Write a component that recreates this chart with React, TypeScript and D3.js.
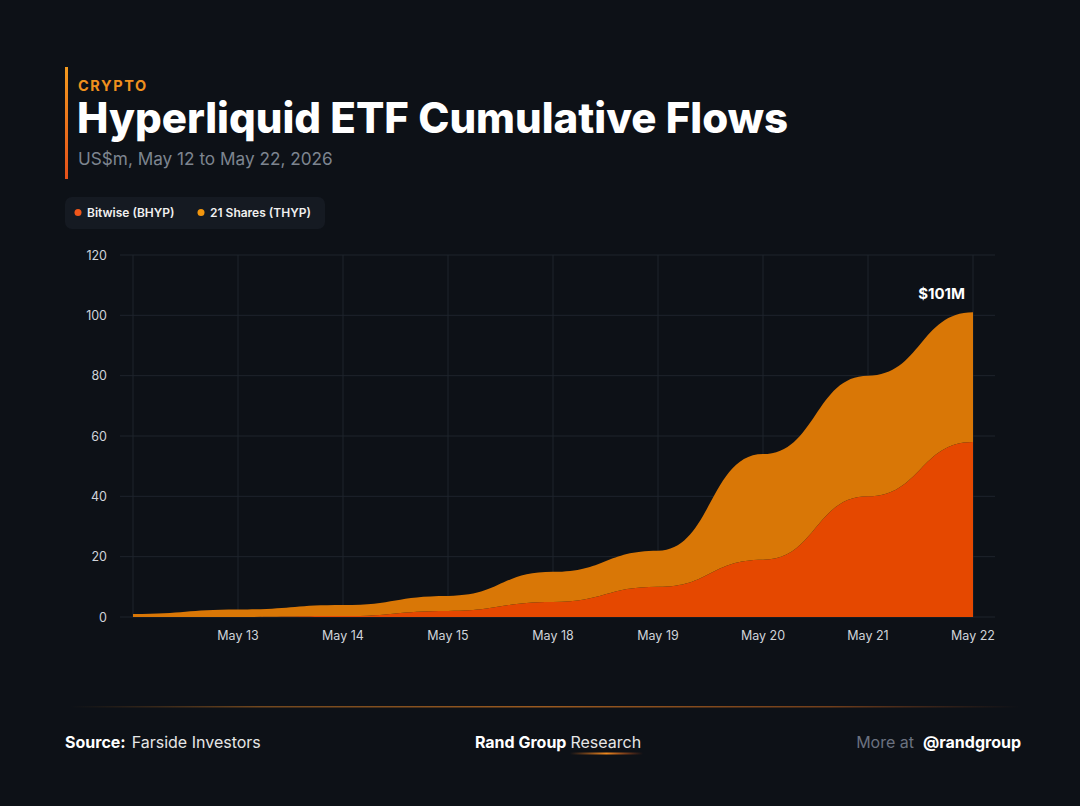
import React, { useEffect } from "react";
import * as d3 from "d3";

const dates = ["May 12", "May 13", "May 14", "May 15", "May 18", "May 19", "May 20", "May 21", "May 22"];
const bitwise = [0, 0, 0.3, 2, 5, 10, 19, 40, 58];
const shares21 = [1, 2.5, 3.7, 5, 10, 12, 35, 40, 43];
const yTicks = [0, 20, 40, 60, 80, 100, 120];
const seriesNames = ["Bitwise (BHYP)", "21 Shares (THYP)"];
const seriesColors = ["#E54800", "#D97706"];
const legendDotColors = ["#F0561A", "#F2960E"];

const W = 1080;
const H = 806;
const FONT = "Inter, 'Noto Sans', sans-serif";

export default function App() {
  useEffect(() => {
    document.body.style.margin = "0";
    document.body.style.background = "#0d1117";
  }, []);

  const x = d3.scalePoint<string>().domain(dates).range([133, 973]);
  const y = d3.scaleLinear().domain([0, 120]).range([617, 255]);

  const rows = dates.map((d, i) => ({ date: d, bitwise: bitwise[i], shares21: shares21[i] }));
  const stack = d3.stack<any>().keys(["bitwise", "shares21"]);
  const layers = stack(rows);
  const area = d3
    .area<any>()
    .x((d: any) => x(d.data.date) as number)
    .y0((d: any) => y(d[0]))
    .y1((d: any) => y(d[1]))
    .curve(d3.curveBumpX);

  const lastX = x(dates[dates.length - 1]) as number;
  const lastTotal = bitwise[bitwise.length - 1] + shares21[shares21.length - 1];

  return (
    <svg
      width={W}
      height={H}
      viewBox={`0 0 ${W} ${H}`}
      style={{ position: "absolute", left: 0, top: 0, display: "block" }}
      fontFamily={FONT}
    >
      <defs>
        <linearGradient id="barGrad" x1="0" y1="0" x2="0" y2="1">
          <stop offset="0%" stopColor="#F39A1E" />
          <stop offset="100%" stopColor="#E5501A" />
        </linearGradient>
        <linearGradient id="footLine" x1="0" y1="0" x2="1" y2="0">
          <stop offset="0%" stopColor="#7a4a1a" stopOpacity="0" />
          <stop offset="20%" stopColor="#8a5520" stopOpacity="0.8" />
          <stop offset="50%" stopColor="#9a5a20" stopOpacity="1" />
          <stop offset="80%" stopColor="#8a4a1c" stopOpacity="0.8" />
          <stop offset="100%" stopColor="#7a3a1a" stopOpacity="0" />
        </linearGradient>
        <linearGradient id="underGlow" x1="0" y1="0" x2="1" y2="0">
          <stop offset="0%" stopColor="#E5701A" stopOpacity="0" />
          <stop offset="50%" stopColor="#F08A1E" stopOpacity="1" />
          <stop offset="100%" stopColor="#E5501A" stopOpacity="0" />
        </linearGradient>
      </defs>
      <rect x={0} y={0} width={W} height={H} fill="#0d1117" />

      {/* Header */}
      <rect x={65} y={67} width={3} height={112} fill="url(#barGrad)" />
      <text x={78} y={91} fill="#F0901E" fontSize={14.5} fontWeight={700} letterSpacing={1.6}>
        CRYPTO
      </text>
      <text x={77} y={133} fill="#ffffff" fontSize={42} fontWeight={800} letterSpacing={0}>
        Hyperliquid ETF Cumulative Flows
      </text>
      <text x={78} y={165} fill="#7d8590" fontSize={17.2}>
        US$m, May 12 to May 22, 2026
      </text>

      {/* Legend */}
      <rect x={65} y={197} width={260} height={32} rx={7} fill="#151a22" />
      {seriesNames.map((n, i) => {
        const lx = i === 0 ? 78 : 201;
        return (
          <g key={n}>
            <circle cx={lx} cy={212.5} r={3.5} fill={legendDotColors[i]} />
            <text x={lx + 9} y={217} fill="#f0f0f0" fontSize={12} fontWeight={600}>
              {n}
            </text>
          </g>
        );
      })}

      {/* Grid */}
      <g>
        {yTicks.map((t) => (
          <line key={"h" + t} x1={120} x2={995} y1={y(t)} y2={y(t)} stroke="#1e242d" strokeWidth={1} />
        ))}
        {dates.map((d) => (
          <line key={"v" + d} x1={x(d)} x2={x(d)} y1={y(120)} y2={y(0)} stroke="#1e242d" strokeWidth={1} />
        ))}
      </g>

      {/* Areas */}
      {layers.map((layer, i) => (
        <path key={layer.key} d={area(layer as any) || ""} fill={seriesColors[i]} />
      ))}

      {/* Axes labels */}
      {yTicks.map((t) => (
        <text key={"yl" + t} x={107} y={y(t) + 4.5} fill="#d0d4da" fontSize={12.5} textAnchor="end">
          {t}
        </text>
      ))}
      {dates.slice(1).map((d) => (
        <text key={"xl" + d} x={x(d)} y={640} fill="#d0d4da" fontSize={12.5} textAnchor="middle">
          {d}
        </text>
      ))}

      {/* Annotation */}
      <text x={lastX - 8} y={299} fill="#ffffff" fontSize={15} fontWeight={700} textAnchor="end">
        {`$${lastTotal}M`}
      </text>

      {/* Footer */}
      <rect x={70} y={706} width={950} height={1.5} fill="url(#footLine)" />
      <text x={65} y={748} fill="#ffffff" fontSize={16}>
        <tspan fontWeight={700}>Source:</tspan>
        <tspan dx={6} fill="#e6e6e6">Farside Investors</tspan>
      </text>
      <text x={558} y={748} fill="#ffffff" fontSize={16} textAnchor="middle">
        <tspan fontWeight={700}>Rand Group</tspan>
        <tspan dx={4} fill="#e6e6e6">Research</tspan>
      </text>
      <rect x={570} y={752.5} width={73} height={2} fill="url(#underGlow)" />
      <text x={1021} y={748} fill="#ffffff" fontSize={16} textAnchor="end">
        <tspan fill="#6b7280">More at</tspan>
        <tspan dx={9} fontWeight={700}>@randgroup</tspan>
      </text>
    </svg>
  );
}
